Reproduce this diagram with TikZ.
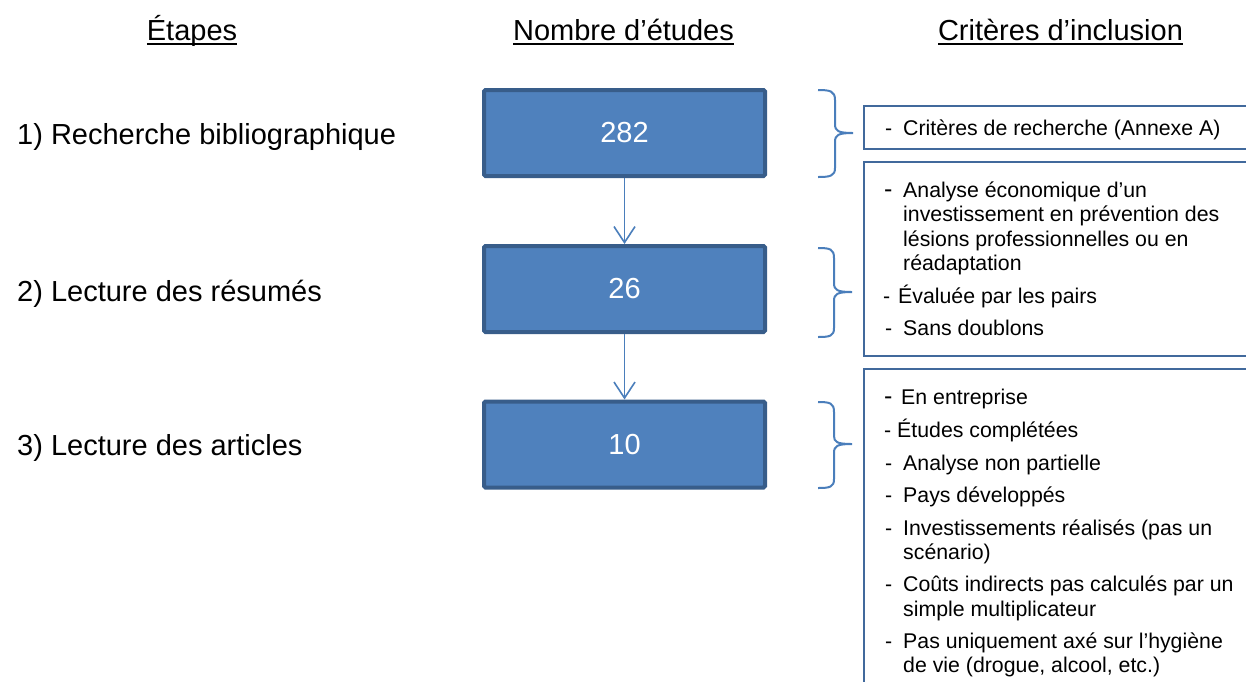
\documentclass[tikz,border=0pt]{standalone}
\usepackage{fontspec}
\setmainfont{Liberation Sans}
\usetikzlibrary{arrows.meta}
\definecolor{boxfill}{HTML}{4F81BD}
\definecolor{boxline}{HTML}{385D8A}
\definecolor{conn}{HTML}{4A7EBB}
\definecolor{critline}{HTML}{41699C}
\begin{document}
\begin{tikzpicture}[x=1pt,y=-1pt,
  hdr/.style={font=\fontsize{29}{33}\selectfont, anchor=base, inner sep=0pt, outer sep=0pt},
  hdrline/.style={line width=1.8pt},
  stage/.style={font=\fontsize{29}{33}\selectfont, anchor=base west, inner sep=0pt},
  countbox/.style={draw=boxline, line width=4pt, fill=boxfill, rounded corners=1.5pt,
    minimum width=281pt, minimum height=86pt, text=white,
    font=\fontsize{29}{33}\selectfont, inner sep=0pt},
  flow/.style={draw=conn, line width=1.6pt, -{Straight Barb[length=16pt,width=21pt,line width=1.6pt]}},
  brc/.style={draw=conn, line width=2pt},
  critbox/.style={draw=critline, line width=2pt, anchor=north west, inner sep=0pt},
  crit/.style={font=\fontsize{21.3}{24}\selectfont, anchor=base west, inner sep=0pt},
  bigdash/.style={font=\fontsize{25}{24}\selectfont, anchor=base west, inner sep=0pt}
]
\clip (0,0) rectangle (1246,681);
\fill[white] (0,0) rectangle (1246,681);

% headers
\node[hdr] (h1) at (192,40) {Étapes};
\node[hdr] (h2) at (623.5,40) {Nombre d’études};
\node[hdr] (h3) at (1060.5,40) {Critères d’inclusion};
\foreach \h in {h1,h2,h3}
  \draw[hdrline] ([yshift=-4pt]\h.base west) -- ([yshift=-4pt]\h.base east);

% stage labels
\node[stage] (s1) at (17,144.5) {1) Recherche bibliographique};
\node[stage] (s2) at (17,301.5) {2) Lecture des résumés};
\node[stage] (s3) at (17,455.5) {3) Lecture des articles};

% count boxes
\node[countbox] (b1) at (624.5,133) {282};
\node[countbox] (b2) at (624.5,289) {26};
\node[countbox] (b3) at (624.5,444.5) {10};
\draw[flow] (b1) -- (b2);
\draw[flow] (b2) -- (b3);

% braces
\draw[brc] (818,90) .. controls (830,90) and (835,91) .. (835,100) -- (835,124)
  .. controls (835,131) and (838,133) .. (853,133)
  .. controls (838,133) and (835,135) .. (835,142) -- (835,168)
  .. controls (835,176) and (830,177) .. (818,177);
\draw[brc] (818,248) .. controls (830,248) and (834,249) .. (834,258) -- (834,283)
  .. controls (834,290) and (837,292) .. (852,292)
  .. controls (837,292) and (834,294) .. (834,301) -- (834,328)
  .. controls (834,336) and (830,337) .. (818,337);
\draw[brc] (818,402) .. controls (830,402) and (834,403) .. (834,412) -- (834,436)
  .. controls (834,442) and (837,444) .. (852,444)
  .. controls (837,444) and (834,446) .. (834,453) -- (834,479)
  .. controls (834,487) and (830,488) .. (818,488);

% criteria boxes
\node[critbox, minimum width=400pt, minimum height=43pt] (cA) at (863,105) {};
\node[critbox, minimum width=400pt, minimum height=194pt] (cB) at (863,161) {};
\node[critbox, minimum width=400pt, minimum height=400pt] (cC) at (863,368) {};

% box A text
\node[crit] (a1d) at (885,135) {-};
\node[crit] (a1) at (903,135) {Critères de recherche (Annexe A)};

% box B text
\node[bigdash] (b1d) at (884,197) {-};
\node[crit] (b1l1) at (903,197) {Analyse économique d’un};
\node[crit] (b1l2) at (903,221.7) {investissement en prévention des};
\node[crit] (b1l3) at (903,246.4) {lésions professionnelles ou en};
\node[crit] (b1l4) at (903,270) {réadaptation};
\node[crit] (b2d) at (883,303.5) {-};
\node[crit] (b2l1) at (898,303.5) {Évaluée par les pairs};
\node[crit] (b3d) at (885,335) {-};
\node[crit] (b3l1) at (903,335) {Sans doublons};

% box C text
\node[bigdash] (c1d) at (884,404) {-};
\node[crit] (c1l1) at (901,404) {En entreprise};
\node[crit] (c2d) at (884,437.5) {-};
\node[crit] (c2l1) at (897,437.5) {Études complétées};
\node[crit] (c3d) at (885,470) {-};
\node[crit] (c3l1) at (903,470) {Analyse non partielle};
\node[crit] (c4d) at (885,502.5) {-};
\node[crit] (c4l1) at (903,502.5) {Pays développés};
\node[crit] (c5d) at (885,535) {-};
\node[crit] (c5l1) at (903,535) {Investissements réalisés (pas un};
\node[crit] (c5l2) at (903,559) {scénario)};
\node[crit] (c6d) at (885,591.5) {-};
\node[crit] (c6l1) at (903,591.5) {Coûts indirects pas calculés par un};
\node[crit] (c6l2) at (903,616) {simple multiplicateur};
\node[crit] (c7d) at (885,648.5) {-};
\node[crit] (c7l1) at (903,648.5) {Pas uniquement axé sur l’hygiène};
\node[crit] (c7l2) at (903,672.5) {de vie (drogue, alcool, etc.)};
\end{tikzpicture}
\end{document}
